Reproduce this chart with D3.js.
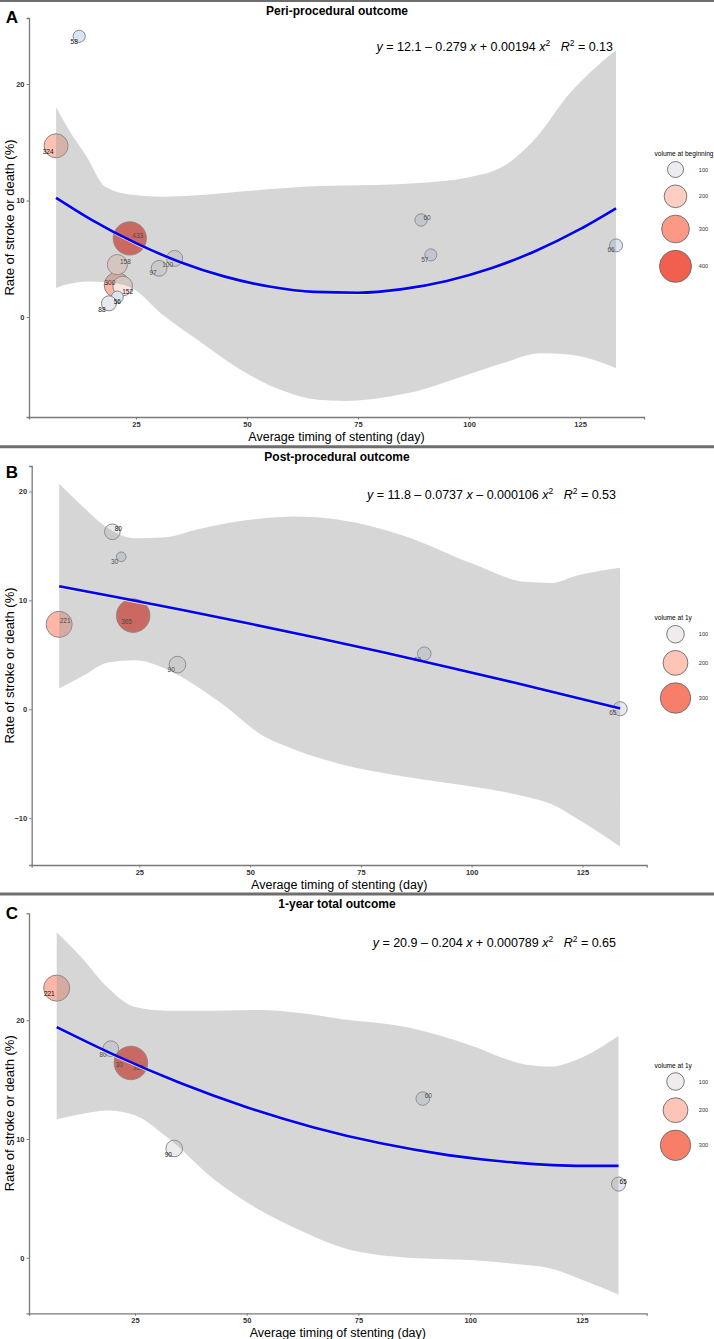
<!DOCTYPE html>
<html>
<head>
<meta charset="utf-8">
<script src="https://cdn.jsdelivr.net/npm/d3@7"></script>
<style>
  body { margin: 0; background: #fff; }
  text { font-family: "Liberation Sans", Arial, Helvetica, sans-serif; }
</style>
</head>
<body>
<svg id="chart"></svg>
<script>
// ---------------- data ----------------
const xTicks = [25, 50, 75, 100, 125];

// A: peri-procedural outcome
const periDays   = [12.2, 7.0, 20.7, 22.0, 20.8, 18.9, 20.8, 23.6, 30.2, 33.7, 89.2, 91.4, 133.1];
const periRate   = [24.1, 14.7, 2.75, 2.66, 1.72, 1.18, 4.5, 6.75, 4.18, 5.03, 8.33, 5.34, 6.15];
const periLabel  = [58, 324, 300, 152, 56, 88, 158, 433, 97, 100, 60, 57, 66];
const periVolume = [58, 225, 252, 152, 56, 88, 158, 433, 97, 100, 60, 57, 66];
const periFitX   = [7, 15, 25, 35, 45, 55, 65, 75, 85, 95, 105, 115, 125, 133.1];
const periFitY   = [10.24, 8.35, 6.34, 4.71, 3.47, 2.62, 2.16, 2.09, 2.40, 3.10, 4.19, 5.67, 7.54, 9.33];
const periBandX  = [7, 10, 14, 18, 24, 31, 39, 48, 58, 66, 72, 86, 100, 108, 116, 122, 129, 133.1];
const periBandHi = [18.0, 16.0, 13.7, 11.2, 10.5, 10.33, 10.45, 10.75, 11.05, 11.25, 11.3, 11.45, 12.0, 13.0, 15.8, 18.9, 21.6, 22.9];
const periBandLo = [2.5, 2.85, 3.05, 3.0, 2.5, 0.2, -2.0, -4.4, -6.3, -7.1, -7.2, -6.55, -4.9, -3.9, -3.1, -3.2, -3.8, -4.4];
const periCoef   = [12.1, -0.279, 0.00194];
const periR2     = 0.13;
const periYTicks = [0, 10, 20];
const periLegend = [100, 200, 300, 400];

// B: post-procedural outcome
const postDays   = [18.9, 20.9, 6.9, 23.6, 33.6, 89.3, 133.5];
const postRate   = [16.3, 14.0, 7.8, 8.6, 4.1, 5.1, 0.05];
const postLabel  = [80, 30, 221, 365, 90, 60, 65];
const postVolume = [80, 30, 221, 365, 90, 60, 65];
const postFitX   = [6.9, 20, 35, 50, 65, 80, 95, 110, 125, 133.5];
const postFitY   = [11.29, 10.28, 9.09, 7.85, 6.56, 5.23, 3.84, 2.41, 0.93, 0.07];
const postBandX  = [6.9, 12, 18, 24, 31, 38, 45, 52, 60, 70, 85, 100, 112, 118, 124, 133.5];
const postBandHi = [20.7, 18.7, 16.6, 15.7, 15.8, 16.5, 17.1, 17.5, 17.7, 17.4, 15.9, 13.4, 11.7, 11.6, 12.3, 13.0];
const postBandLo = [1.9, 3.0, 4.3, 4.5, 3.7, 2.1, 0.1, -2.2, -3.7, -5.0, -6.2, -7.1, -8.0, -8.7, -10.1, -12.6];
const postCoef   = [11.8, -0.0737, -0.000106];
const postR2     = 0.53;
const postYTicks = [-10, 0, 10, 20];
const postLegend = [100, 200, 300];

// C: 1-year total outcome
const totalDays   = [7.5, 19.6, 21.5, 24.1, 33.8, 89.4, 133.2];
const totalRate   = [22.7, 17.6, 16.8, 16.4, 9.2, 13.4, 6.2];
const totalLabel  = [221, 80, 30, 365, 90, 60, 65];
const totalVolume = [221, 80, 30, 365, 90, 60, 65];
const totalFitX   = [7.5, 20, 35, 50, 65, 80, 95, 110, 125, 133.2];
const totalFitY   = [19.41, 17.14, 14.73, 12.67, 10.97, 9.63, 8.64, 8.01, 7.73, 7.73];
const totalBandX  = [7.5, 13, 19, 25, 32, 43, 53, 62, 71, 86, 100, 112, 118, 124, 133.2];
const totalBandHi = [27.4, 25.3, 22.7, 21.1, 20.8, 20.8, 20.85, 20.6, 20.1, 19.4, 17.9, 16.3, 16.1, 16.7, 18.7];
const totalBandLo = [11.65, 12.1, 12.4, 12.0, 10.2, 6.5, 4.0, 2.3, 0.9, 0.0, -0.2, -0.6, -0.9, -1.7, -3.1];
const totalCoef   = [20.9, -0.204, 0.000789];
const totalR2     = 0.65;
const totalYTicks = [0, 10, 20];
const totalLegend = [100, 200, 300];

// ---------------- layout (pixels) ----------------
const width = 714;
const height = 1339;
const fillLow = '#d9e5f3';
const fillMid = '#fbefeb';
const fillHigh = '#ec4a3c';
const fillMidValue = 135;

// label nudges in px, same order as the point arrays
const periNudge  = [[-5, 5], [-8, 6], [-7, -3], [5, 5], [0, 4], [-7, 6], [8, -3], [8, -3], [-6, 4.5], [-7, 6], [6, -3], [-6, 5], [-5, 4]];
const postNudge  = [[6, -3.4], [-6.7, 5], [6, -3.6], [-6.6, 5.7], [-6.3, 4.4], [-6.7, 5.7], [-7.3, 3.6]];
const totalNudge = [[-7.4, 5.7], [-7.7, 5.7], [0, 6.7], [7.3, 5], [-6, 5.7], [5.6, -3.3], [4.6, -3]];

const panels = [
  {
    letter: 'A', title: 'Peri-procedural outcome', legendTitle: 'volume at beginning',
    days: periDays, rate: periRate, label: periLabel, volume: periVolume, nudge: periNudge,
    fitX: periFitX, fitY: periFitY, bandX: periBandX, bandHi: periBandHi, bandLo: periBandLo,
    coef: periCoef, r2: periR2, yTicks: periYTicks, legend: periLegend,
    left: 29, right: 644, top: 18, bottom: 417,
    xDomain: [0.9, 139.4], yDomain: [-8.58, 25.67],
    titleY: 10.5, letterY: 17, eqX: 613, eqY: 51,
    rScale: d3.scaleSqrt().domain([0, 400]).range([0, 16]),
    colorDomain: [56, fillMidValue, 433], legendTitleY: 153,
  },
  {
    letter: 'B', title: 'Post-procedural outcome', legendTitle: 'volume at 1y',
    days: postDays, rate: postRate, label: postLabel, volume: postVolume, nudge: postNudge,
    fitX: postFitX, fitY: postFitY, bandX: postBandX, bandHi: postBandHi, bandLo: postBandLo,
    coef: postCoef, r2: postR2, yTicks: postYTicks, legend: postLegend,
    left: 31.7, right: 646.7, top: 466, bottom: 865,
    xDomain: [0.7, 139.5], yDomain: [-14.3, 22.34],
    titleY: 457.3, letterY: 472.3, eqX: 616, eqY: 499.3,
    rScale: d3.scaleSqrt().domain([0, 300]).range([0, 15.2]),
    colorDomain: [30, fillMidValue, 365], legendTitleY: 617.7,
  },
  {
    letter: 'C', title: '1-year total outcome', legendTitle: 'volume at 1y',
    days: totalDays, rate: totalRate, label: totalLabel, volume: totalVolume, nudge: totalNudge,
    fitX: totalFitX, fitY: totalFitY, bandX: totalBandX, bandHi: totalBandHi, bandLo: totalBandLo,
    coef: totalCoef, r2: totalR2, yTicks: totalYTicks, legend: totalLegend,
    left: 29, right: 646.7, top: 913.3, bottom: 1313.3,
    xDomain: [1.3, 139.5], yDomain: [-4.68, 29.0],
    titleY: 904, letterY: 913.3, eqX: 616, eqY: 946.7,
    rScale: d3.scaleSqrt().domain([0, 300]).range([0, 15.2]),
    colorDomain: [30, fillMidValue, 365], legendTitleY: 1065,
  },
];

const chart = d3.select('#chart')
  .attr('width', width)
  .attr('height', height);

// panel separators
const sepData = [{ y: 1, w: 2 }, { y: 446.7, w: 3 }, { y: 894, w: 3 }];
chart.selectAll('.sep')
    .data(sepData)
  .enter().append('line')
    .attr('x1', 0).attr('x2', width)
    .attr('y1', (d) => d.y).attr('y2', (d) => d.y)
    .attr('stroke', '#6e6e6e')
    .attr('stroke-width', (d) => d.w);

panels.forEach(drawPanel);

function fmtCoef(c, first) {
  if (first) return String(c);
  return (c < 0 ? ' \u2013 ' : ' + ') + String(Math.abs(c));
}

function drawPanel(p) {
  const g = chart.append('g');

  const x = d3.scaleLinear().domain(p.xDomain).range([p.left, p.right]);
  const y = d3.scaleLinear().domain(p.yDomain).range([p.bottom, p.top]);
  const color = d3.scaleLinear()
    .domain(p.colorDomain)
    .range([fillLow, fillMid, fillHigh])
    .interpolate(d3.interpolateLab)
    .clamp(true);

  // titles
  g.append('text')
    .attr('x', 337).attr('y', p.titleY)
    .attr('text-anchor', 'middle').attr('dominant-baseline', 'central')
    .attr('font-size', 12).attr('font-weight', 'bold')
    .text(p.title);

  g.append('text')
    .attr('x', 12).attr('y', p.letterY)
    .attr('text-anchor', 'middle').attr('dominant-baseline', 'central')
    .attr('font-size', 17).attr('font-weight', 'bold')
    .text(p.letter);

  // points (drawn before the band so the band tints them like ggplot)
  const pts = p.days.map((d, i) => ({
    x: d, y: p.rate[i], label: p.label[i], volume: p.volume[i], nudge: p.nudge[i],
  }));

  g.selectAll('.pt')
      .data(pts)
    .enter().append('circle')
      .attr('cx', (d) => x(d.x))
      .attr('cy', (d) => y(d.y))
      .attr('r', (d) => p.rScale(d.volume))
      .attr('fill', (d) => color(d.volume))
      .attr('stroke', '#7d7d7d')
      .attr('stroke-width', 0.9);

  g.selectAll('.pt-label')
      .data(pts)
    .enter().append('text')
      .attr('x', (d) => x(d.x) + d.nudge[0])
      .attr('y', (d) => y(d.y) + d.nudge[1])
      .attr('text-anchor', 'middle').attr('dominant-baseline', 'central')
      .attr('font-size', 6.5)
      .attr('fill', '#111')
      .text((d) => d.label);

  // confidence band
  const band = p.bandX.map((d, i) => ({ x: d, lo: p.bandLo[i], hi: p.bandHi[i] }));
  const area = d3.area()
    .x((d) => x(d.x))
    .y0((d) => y(d.lo))
    .y1((d) => y(d.hi))
    .curve(d3.curveMonotoneX);
  g.append('path')
    .datum(band)
    .attr('d', area)
    .attr('fill', '#999999')
    .attr('fill-opacity', 0.4);

  // fitted curve
  const fit = p.fitX.map((d, i) => ({ x: d, y: p.fitY[i] }));
  const line = d3.line()
    .x((d) => x(d.x))
    .y((d) => y(d.y))
    .curve(d3.curveMonotoneX);
  g.append('path')
    .datum(fit)
    .attr('d', line)
    .attr('transform', 'translate(0,1.5)')
    .attr('fill', 'none')
    .attr('stroke', '#f2ecb8')
    .attr('stroke-width', 1.2);
  g.append('path')
    .datum(fit)
    .attr('d', line)
    .attr('fill', 'none')
    .attr('stroke', '#0000ff')
    .attr('stroke-width', 2.6);

  // axes
  const xAxis = g.append('g')
    .attr('transform', `translate(0,${p.bottom})`)
    .call(d3.axisBottom(x).tickValues(xTicks).tickSize(2.5).tickPadding(2));
  const yAxis = g.append('g')
    .attr('transform', `translate(${p.left},0)`)
    .call(d3.axisLeft(y).tickValues(p.yTicks).tickSize(2.5).tickPadding(2));

  [xAxis, yAxis].forEach((a) => {
    a.select('.domain').attr('stroke', '#7a7a7a').attr('stroke-width', 1.3);
    a.selectAll('.tick line').attr('stroke', '#7a7a7a').attr('stroke-width', 1);
    a.selectAll('.tick text')
      .attr('font-family', '"Liberation Sans", Arial, sans-serif')
      .attr('font-size', 7.5)
      .attr('font-weight', 'bold')
      .attr('fill', '#333');
  });

  g.append('text')
    .attr('x', (p.left + p.right) / 2).attr('y', p.bottom + 19.5)
    .attr('text-anchor', 'middle').attr('dominant-baseline', 'central')
    .attr('font-size', 12.5)
    .text('Average timing of stenting (day)');

  g.append('text')
    .attr('transform', `translate(9.5,${(p.top + p.bottom) / 2}) rotate(-90)`)
    .attr('text-anchor', 'middle').attr('dominant-baseline', 'central')
    .attr('font-size', 13)
    .text('Rate of stroke or death (%)');

  // equation
  const parts = [
    { t: 'y', s: 'i' },
    { t: ' = ' + fmtCoef(p.coef[0], true) + fmtCoef(p.coef[1]) + ' ', s: '' },
    { t: 'x', s: 'i' },
    { t: fmtCoef(p.coef[2]) + ' ', s: '' },
    { t: 'x', s: 'i' },
    { t: '2', s: 'sup' },
    { t: '   ', s: '' },
    { t: 'R', s: 'i' },
    { t: '2', s: 'sup' },
    { t: ' = ' + p.r2.toFixed(2), s: '' },
  ];
  const eq = g.append('text')
    .attr('x', p.eqX).attr('y', p.eqY)
    .attr('text-anchor', 'end')
    .attr('font-size', 12.5)
    .style('white-space', 'pre');
  let raised = false;
  parts.forEach((d) => {
    const ts = eq.append('tspan').text(d.t);
    if (d.s === 'i') ts.attr('font-style', 'italic');
    if (d.s === 'sup') {
      ts.attr('font-size', 8.5).attr('dy', -5);
      raised = true;
    } else if (raised) {
      ts.attr('dy', 5);
      raised = false;
    }
  });

  // size / fill legend
  const lg = g.append('g');
  lg.append('text')
    .attr('x', 654.5).attr('y', p.legendTitleY)
    .attr('dominant-baseline', 'central')
    .attr('font-size', 6.6)
    .text(p.legendTitle);

  let cy = p.legendTitleY + 16.5 - p.rScale(p.legend[0]);
  const keys = p.legend.map((v) => {
    const r = p.rScale(v);
    const k = { v, r, cy: cy + r };
    cy += 2 * r + 7.5;
    return k;
  });

  lg.selectAll('.key')
      .data(keys)
    .enter().append('circle')
      .attr('cx', 675.5)
      .attr('cy', (d) => d.cy)
      .attr('r', (d) => d.r)
      .attr('fill', (d) => color(d.v))
      .attr('stroke', '#6a6a6a')
      .attr('stroke-width', 0.9);

  lg.selectAll('.key-label')
      .data(keys)
    .enter().append('text')
      .attr('x', 703.5)
      .attr('y', (d) => d.cy)
      .attr('text-anchor', 'middle').attr('dominant-baseline', 'central')
      .attr('font-size', 5.6)
      .attr('fill', '#333')
      .text((d) => d.v);
}
</script>
</body>
</html>
